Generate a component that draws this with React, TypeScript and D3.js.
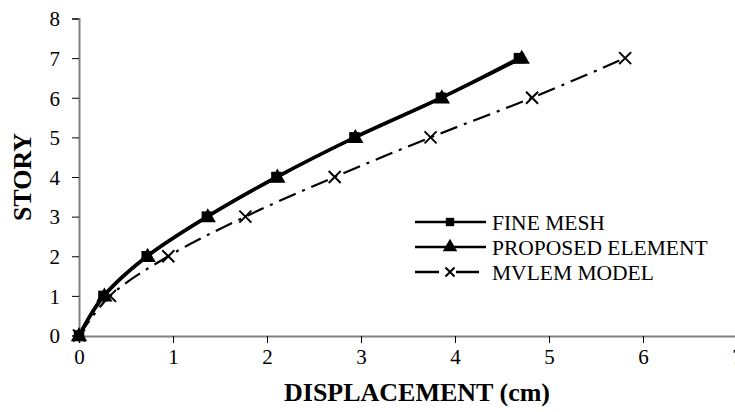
import React, { useEffect, useRef } from 'react';
import * as d3 from 'd3';

const stories = [0, 1, 2, 3, 4, 5, 6, 7];
const fineMesh = [0, 0.26, 0.72, 1.36, 2.1, 2.93, 3.85, 4.68];
const proposed = [0, 0.27, 0.73, 1.37, 2.11, 2.94, 3.86, 4.71];
const mvlem = [0, 0.33, 0.95, 1.77, 2.72, 3.74, 4.82, 5.81];
const xTicks = [0, 1, 2, 3, 4, 5, 6, 7];
const yTicks = [0, 1, 2, 3, 4, 5, 6, 7, 8];
const seriesNames = ['FINE MESH', 'PROPOSED ELEMENT', 'MVLEM MODEL'];

const FONT = 'Liberation Serif, DejaVu Serif, serif';

export default function App() {
  const ref = useRef<SVGSVGElement>(null);

  useEffect(() => {
    const svg = d3.select(ref.current);
    svg.selectAll('*').remove();

    const x = d3.scaleLinear().domain([0, 7]).range([79, 737]);
    const y = d3.scaleLinear().domain([0, 8]).range([335.5, 18.5]);

    // axes
    const xAxis = svg
      .append('g')
      .attr('transform', 'translate(0,336)')
      .call(d3.axisBottom(x).tickValues(xTicks).tickSize(7).tickPadding(6).tickFormat(d3.format('d')));
    const yAxis = svg
      .append('g')
      .attr('transform', 'translate(79,0)')
      .call(d3.axisLeft(y).tickValues(yTicks).tickSize(7).tickPadding(12).tickFormat(d3.format('d')));
    [xAxis, yAxis].forEach(g => {
      g.attr('font-family', FONT).attr('font-size', 21);
      g.select('.domain').attr('stroke', '#808080').attr('stroke-width', 2);
      g.selectAll('.tick line').attr('stroke', '#000').attr('stroke-width', 1);
      g.selectAll('.tick text').attr('fill', '#000');
    });
    yAxis.selectAll('.tick text').attr('dy', '0.35em');

    // axis titles
    svg
      .append('text')
      .attr('x', 417)
      .attr('y', 401)
      .attr('text-anchor', 'middle')
      .attr('font-family', FONT)
      .attr('font-size', 26)
      .attr('font-weight', 'bold')
      .text('DISPLACEMENT (cm)');
    svg
      .append('text')
      .attr('transform', 'translate(31,177) rotate(-90)')
      .attr('text-anchor', 'middle')
      .attr('font-family', FONT)
      .attr('font-size', 26)
      .attr('font-weight', 'bold')
      .text('STORY');

    const line = d3
      .line<number>()
      .x(d => x(d))
      .y((d, i) => y(stories[i]))
      .curve(d3.curveCatmullRom.alpha(0.5));

    const square = d3.symbol().type(d3.symbolSquare).size(110);
    const triangle = d3.symbol().type(d3.symbolTriangle).size(115);

    // MVLEM (dash-dot)
    svg
      .append('path')
      .attr('d', line(mvlem))
      .attr('fill', 'none')
      .attr('stroke', '#000')
      .attr('stroke-width', 2.2)
      .attr('stroke-dasharray', '18,7,3,7');

    const drawX = (g: any, cx: number, cy: number, r: number) => {
      g.append('path')
        .attr('d', `M${cx - r},${cy - r}L${cx + r},${cy + r}M${cx - r},${cy + r}L${cx + r},${cy - r}`)
        .attr('stroke', '#000')
        .attr('stroke-width', 2)
        .attr('fill', 'none');
    };
    mvlem.forEach((d, i) => drawX(svg, x(d), y(stories[i]), 6));

    // fine mesh + proposed
    [fineMesh, proposed].forEach(s => {
      svg
        .append('path')
        .attr('d', line(s))
        .attr('fill', 'none')
        .attr('stroke', '#000')
        .attr('stroke-width', 3.2);
    });
    svg
      .selectAll('.sq')
      .data(fineMesh)
      .enter()
      .append('path')
      .attr('d', square)
      .attr('transform', (d, i) => `translate(${x(d)},${y(stories[i])})`)
      .attr('fill', '#000');
    svg
      .selectAll('.tri')
      .data(proposed)
      .enter()
      .append('path')
      .attr('d', triangle)
      .attr('transform', (d, i) => `translate(${x(d)},${y(stories[i]) + 1})`)
      .attr('fill', '#000');

    // legend
    const legend = svg.append('g').attr('transform', 'translate(415,222)');
    seriesNames.forEach((name, i) => {
      const row = legend.append('g').attr('transform', `translate(0,${i * 25})`);
      if (i < 2) {
        row.append('line').attr('x1', 0).attr('x2', 71).attr('stroke', '#000').attr('stroke-width', 2.5);
        row
          .append('path')
          .attr('d', i === 0 ? d3.symbol().type(d3.symbolSquare).size(70)() : d3.symbol().type(d3.symbolTriangle).size(90)())
          .attr('transform', 'translate(35,0)')
          .attr('fill', '#000');
      } else {
        row.append('line').attr('x1', 0).attr('x2', 24).attr('stroke', '#000').attr('stroke-width', 2.5);
        row.append('line').attr('x1', 41).attr('x2', 64).attr('stroke', '#000').attr('stroke-width', 2.5);
        drawX(row, 35, 0, 4.5);
      }
      row
        .append('text')
        .attr('x', 77)
        .attr('y', 0)
        .attr('dy', '0.35em')
        .attr('font-family', FONT)
        .attr('font-size', 21.5)
        .text(name);
    });
  }, []);

  return (
    <svg
      ref={ref}
      width={735}
      height={412}
      style={{ position: 'absolute', left: 0, top: 0, background: '#fff' }}
    />
  );
}
